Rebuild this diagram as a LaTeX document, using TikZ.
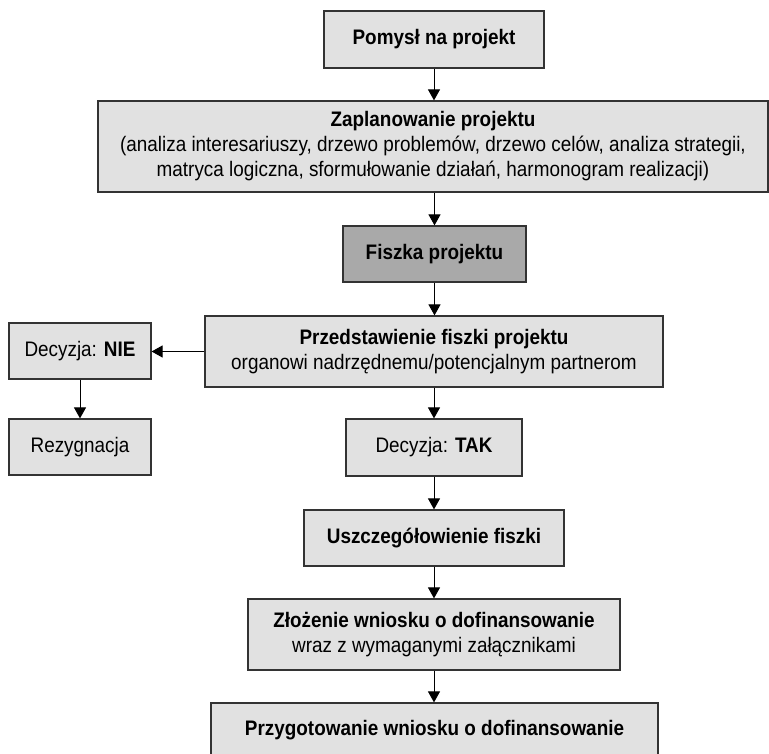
\documentclass[tikz,border=0pt]{standalone}
\usepackage{fontspec}
\setmainfont{Liberation Sans}[FakeStretch=0.9]
\usetikzlibrary{arrows.meta}
\definecolor{boxfill}{HTML}{E1E1E1}
\definecolor{keyfill}{HTML}{A9A9A9}
\definecolor{edge}{HTML}{333333}
\tikzset{
  stepbox/.style={draw=edge, line width=1.2pt, fill=boxfill, align=center,
    inner sep=0pt, font=\fontsize{21}{25}\selectfont},
  keybox/.style={stepbox, fill=keyfill},
  flow/.style={draw=black, line width=1pt,
    -{Triangle[width=12pt,length=11pt]}}
}
\begin{document}
\begin{tikzpicture}[x=1pt,y=-1pt]
  \useasboundingbox (0,0) rectangle (769,754);
  \clip (0,0) rectangle (769,754);

  \node[stepbox, minimum width=220pt, minimum height=57pt] (idea) at (434,39.5)
    {\textbf{Pomysł na projekt}};
  \node[stepbox, minimum width=670pt, minimum height=91pt] (plan) at (433,146.5)
    {\textbf{Zaplanowanie projektu}\\
     (analiza interesariuszy, drzewo problemów, drzewo celów, analiza strategii,\\
     matryca logiczna, sformułowanie działań, harmonogram realizacji)};
  \node[keybox, minimum width=183pt, minimum height=56pt] (card) at (434.5,254)
    {\textbf{Fiszka projektu}};
  \node[stepbox, minimum width=458pt, minimum height=71pt] (present) at (434,351.5)
    {\textbf{Przedstawienie fiszki projektu}\\
     organowi nadrzędnemu/potencjalnym partnerom};
  \node[stepbox, minimum width=142pt, minimum height=56pt] (no) at (80,351)
    {Decyzja: \textbf{NIE}};
  \node[stepbox, minimum width=142pt, minimum height=56pt] (quit) at (80,447)
    {Rezygnacja};
  \node[stepbox, minimum width=176pt, minimum height=57pt] (yes) at (434,447.5)
    {Decyzja: \textbf{TAK}};
  \node[stepbox, minimum width=260pt, minimum height=56pt] (detail) at (434,538)
    {\textbf{Uszczegółowienie fiszki}};
  \node[stepbox, minimum width=372pt, minimum height=71pt] (submit) at (434,634.5)
    {\textbf{Złożenie wniosku o dofinansowanie}\\
     wraz z wymaganymi załącznikami};
  \node[stepbox, minimum width=447pt, minimum height=54pt] (prepare) at (434.5,730)
    {\textbf{Przygotowanie wniosku o dofinansowanie}};

  \draw[flow] (idea.south) -- (plan.north -| idea.south);
  \draw[flow] (plan.south -| card.north) -- (card.north);
  \draw[flow] (card.south) -- (present.north -| card.south);
  \draw[flow] (present.west) -- (no.east |- present.west);
  \draw[flow] (no.south) -- (quit.north);
  \draw[flow] (present.south) -- (yes.north);
  \draw[flow] (yes.south) -- (detail.north);
  \draw[flow] (detail.south) -- (submit.north);
  \draw[flow] (submit.south) -- (prepare.north -| submit.south);
\end{tikzpicture}
\end{document}
